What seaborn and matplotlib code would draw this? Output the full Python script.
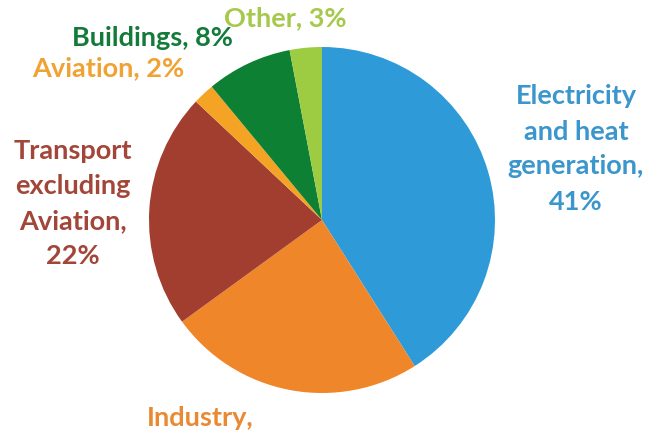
import matplotlib
matplotlib.use("Agg")
import matplotlib.pyplot as plt
import seaborn as sns

sectors = ["Electricity and heat generation", "Industry", "Transport excluding Aviation",
           "Aviation", "Buildings", "Other"]
shares = [41, 24, 22, 2, 8, 3]
slice_colors = ["#2E9BD8", "#F0862A", "#A23E30", "#F5A324", "#0E8034", "#9DCB42"]
# the reference crops the Industry label at the bottom edge, only "Industry," is visible
label_texts = ["Electricity\nand heat\ngeneration,\n41%", "Industry,",
               "Transport\nexcluding\nAviation,\n22%", "Aviation, 2%",
               "Buildings, 8%", "Other, 3%"]
label_colors = ["#3A96CC", "#E98A32", "#A3463A", "#F0A232", "#147A3A", "#A6C94C"]

sns.set_theme(style="white")
plt.rcParams['font.family'] = ['Lato', 'DejaVu Sans']

W, H = 648, 436
fig = plt.figure(figsize=(W / 100, H / 100), dpi=100)
ax = fig.add_axes([0, 0, 1, 1])

ax.pie(shares, colors=slice_colors, startangle=90, counterclock=False,
       center=(322, H - 220), radius=173, wedgeprops=dict(linewidth=0))

ax.set_xlim(0, W)
ax.set_ylim(0, H)
ax.set_aspect('equal')
ax.axis('off')

# label anchor positions (pixel coords, y from top)
label_pos = [(576, 149), (200, 418), (73, 204), (108, 68), (152, 38), (285, 18)]
for txt, col, (x, y) in zip(label_texts, label_colors, label_pos):
    ax.text(x, H - y, txt, color=col, fontsize=19.5, fontweight='bold',
            ha='center', va='center', linespacing=1.55)

fig.savefig("out.png", dpi=100)
